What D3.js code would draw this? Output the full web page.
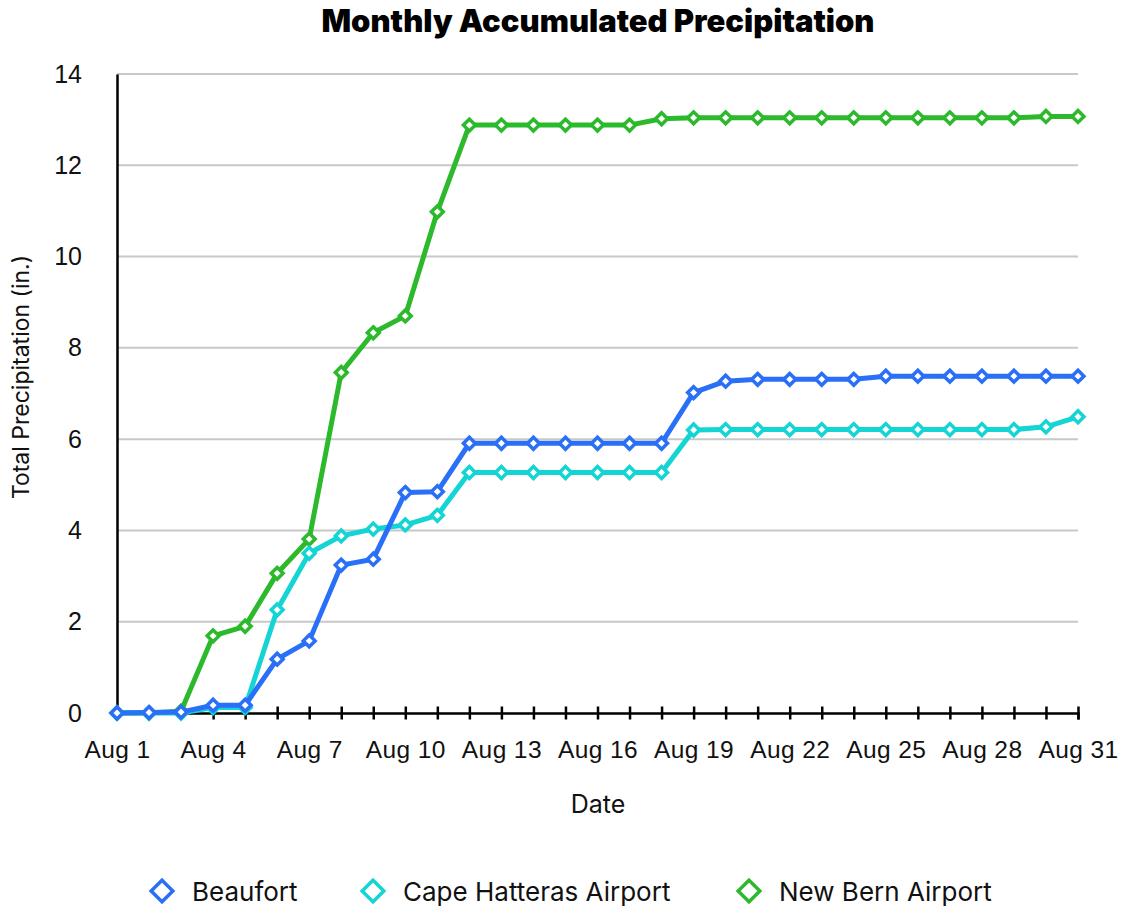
<!DOCTYPE html>
<html>
<head>
<meta charset="utf-8">
<script src="https://cdn.jsdelivr.net/npm/d3@7"></script>
<style>
  body { margin: 0; background: #fff; }
  svg { display: block; font-family: Inter, "Noto Sans", sans-serif; }
</style>
</head>
<body>
<div id="chart"></div>
<script>
const days = [1, 2, 3, 4, 5, 6, 7, 8, 9, 10, 11, 12, 13, 14, 15, 16, 17, 18, 19, 20, 21, 22, 23, 24, 25, 26, 27, 28, 29, 30, 31];
const beaufort = [0, 0.01, 0.02, 0.17, 0.17, 1.18, 1.58, 3.24, 3.37, 4.83, 4.85, 5.91, 5.91, 5.91, 5.91, 5.91, 5.91, 5.91, 7.02, 7.27, 7.31, 7.31, 7.31, 7.31, 7.38, 7.38, 7.38, 7.38, 7.38, 7.38, 7.38];
const capeHatteras = [0, 0, 0, 0.12, 0.12, 2.26, 3.50, 3.88, 4.03, 4.12, 4.33, 5.27, 5.27, 5.27, 5.27, 5.27, 5.27, 5.27, 6.20, 6.21, 6.21, 6.21, 6.21, 6.21, 6.21, 6.21, 6.21, 6.21, 6.21, 6.27, 6.49];
const newBern = [0, 0, 0.04, 1.69, 1.90, 3.06, 3.81, 7.46, 8.33, 8.70, 10.98, 12.88, 12.88, 12.88, 12.88, 12.88, 12.88, 13.02, 13.04, 13.04, 13.04, 13.04, 13.04, 13.04, 13.04, 13.04, 13.04, 13.04, 13.04, 13.07, 13.07];
const seriesNames = ["Beaufort", "Cape Hatteras Airport", "New Bern Airport"];
const yTicks = [0, 2, 4, 6, 8, 10, 12, 14];

const colors = ["#2a6ff7", "#14d4d4", "#2cb92c"];
const series = [beaufort, capeHatteras, newBern].map((vals, i) => ({
  name: seriesNames[i],
  color: colors[i],
  values: vals.map((v, j) => ({ day: days[j], v: v }))
}));

const width = 1125, height = 909;
const svg = d3.select("#chart").append("svg")
  .attr("width", width)
  .attr("height", height);

let x = d3.scaleLinear().domain([1, 31]).range([117, 1078]);
let y = d3.scaleLinear().domain([0, 14]).range([713, 74]);

// gridlines
svg.selectAll("line.grid")
  .data(yTicks.filter(d => d > 0))
  .enter().append("line")
  .attr("class", "grid")
  .attr("x1", x(1))
  .attr("x2", x(31))
  .attr("y1", y)
  .attr("y2", y)
  .style("stroke", "#c8c8c8")
  .style("stroke-width", 2);

// y axis
let yAxis = d3.axisLeft(y).tickValues(yTicks).tickSize(0).tickPadding(35);
let gy = svg.append("g")
  .attr("transform", "translate(" + x(1) + ",0)")
  .call(yAxis);
gy.select(".domain").style("stroke", "#000").style("stroke-width", 2.5);
gy.selectAll("text").style("font-size", "25px").style("fill", "#111");

// x axis
let xAxis = d3.axisBottom(x)
  .tickValues(days)
  .tickSize(6.5)
  .tickFormat(d => (d - 1) % 3 === 0 ? "Aug " + d : "");
let gx = svg.append("g")
  .attr("transform", "translate(0," + y(0) + ")")
  .call(xAxis);
gx.select(".domain").style("stroke", "#000").style("stroke-width", 2.5);
gx.selectAll(".tick line")
  .attr("y1", -6.5)
  .style("stroke", "#000").style("stroke-width", 2.5);
gx.selectAll("text")
  .attr("y", 28)
  .style("font-size", "24.5px")
  .style("letter-spacing", "0.4px")
  .style("fill", "#111");

// lines
let line = d3.line()
  .x(d => x(d.day))
  .y(d => y(d.v));

let diamond = d3.symbol().type(d3.symbolDiamond2).size(90);

series.slice().reverse().forEach(s => {
  let g = svg.append("g");
  g.append("path")
    .attr("d", line(s.values))
    .style("fill", "none")
    .style("stroke", s.color)
    .style("stroke-width", 5)
    .style("stroke-linejoin", "round");
  g.selectAll("path.pt")
    .data(s.values)
    .enter().append("path")
    .attr("class", "pt")
    .attr("d", diamond)
    .attr("transform", d => "translate(" + x(d.day) + "," + y(d.v) + ")")
    .style("fill", "#fff")
    .style("stroke", s.color)
    .style("stroke-width", 3.5);
});

// title
svg.append("text")
  .attr("x", 598)
  .attr("y", 32)
  .attr("text-anchor", "middle")
  .style("font-size", "31px")
  .style("font-weight", 900)
  .style("fill", "#000")
  .text("Monthly Accumulated Precipitation");

// axis titles
svg.append("text")
  .attr("x", 598)
  .attr("y", 813)
  .attr("text-anchor", "middle")
  .style("font-size", "25px")
  .style("fill", "#111")
  .text("Date");

svg.append("text")
  .attr("transform", "translate(29,377) rotate(-90)")
  .attr("text-anchor", "middle")
  .style("font-size", "23px")
  .style("fill", "#111")
  .text("Total Precipitation (in.)");

// legend
let legendX = [162, 373, 749];
let legend = svg.selectAll("g.legend")
  .data(series)
  .enter().append("g")
  .attr("class", "legend")
  .attr("transform", (d, i) => "translate(" + legendX[i] + ",891)");

legend.append("path")
  .attr("d", d3.symbol().type(d3.symbolDiamond2).size(300))
  .style("fill", "#fff")
  .style("stroke", d => d.color)
  .style("stroke-width", 3.5);

legend.append("text")
  .attr("x", 30)
  .attr("y", 10)
  .style("font-size", "26px")
  .style("fill", "#111")
  .text(d => d.name);
</script>
</body>
</html>
